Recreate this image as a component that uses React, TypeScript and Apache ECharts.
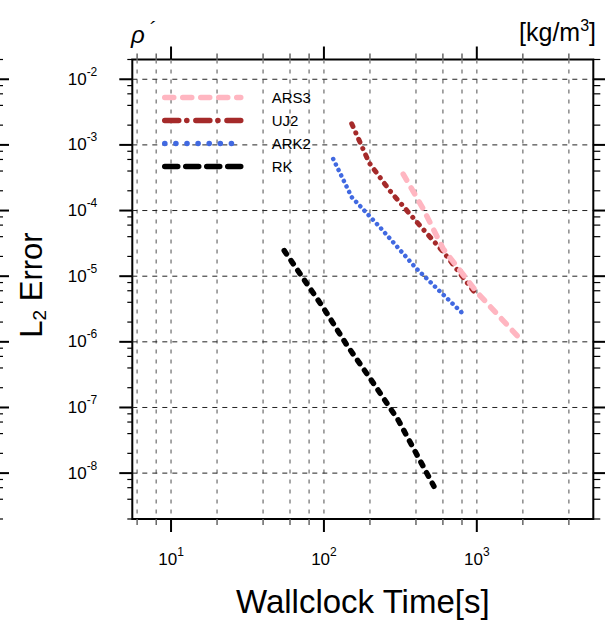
import React, { useEffect, useRef } from 'react';
import * as echarts from 'echarts';

const FONT = '"Liberation Sans", Arial, Helvetica, sans-serif';

// ---- data ----
const seriesNames = ['ARS3', 'UJ2', 'ARK2', 'RK'];
const ars3Time = [330, 447, 603, 995, 1860];
const ars3Error = [3.6e-4, 1.05e-4, 2.6e-5, 5.8e-6, 1.2e-6];
const uj2Time = [152, 198, 270, 424, 603, 960];
const uj2Error = [2.1e-3, 5.3e-4, 2.0e-4, 5.9e-5, 2.35e-5, 5.8e-6];
const ark2Time = [115, 152, 232, 403, 836];
const ark2Error = [6.1e-4, 1.6e-4, 5.6e-5, 1.3e-5, 2.5e-6];
const rkTime = [55, 100, 140, 200, 306, 524];
const rkError = [2.45e-5, 3.2e-6, 9.2e-7, 2.8e-7, 6.45e-8, 6.3e-9];

// ---- axes ----
const xMin = 5.58;
const xMax = 5780;
const yMin = 2e-9;
const yMax = 2e-2;
const xMajorTicks = [10, 100, 1000];
const xMinorTicks = [6, 8, 20, 40, 60, 80, 200, 400, 600, 800, 2000, 4000];
const yMajorTicks = [1e-8, 1e-7, 1e-6, 1e-5, 1e-4, 1e-3, 1e-2];
const yMinorTicks = [
  2e-9, 4e-9, 6e-9, 8e-9,
  2e-8, 4e-8, 6e-8, 8e-8,
  2e-7, 4e-7, 6e-7, 8e-7,
  2e-6, 4e-6, 6e-6, 8e-6,
  2e-5, 4e-5, 6e-5, 8e-5,
  2e-4, 4e-4, 6e-4, 8e-4,
  2e-3, 4e-3, 6e-3, 8e-3,
  2e-2,
];

const COLORS: Record<string, string> = { ARS3: '#FFB6C1', UJ2: '#A52A2A', ARK2: '#4169E1', RK: '#000000' };
const LEGEND_DASH: Record<string, number[]> = { ARS3: [9, 9], UJ2: [14, 8, 0.1, 9], ARK2: [0.1, 11], RK: [13, 8] };

const pair = (xs: number[], ys: number[]) => xs.map((x, i) => [x, ys[i]]);

const powLabel = (v: number) => {
  const l = Math.log10(v);
  const n = Math.round(l);
  if (Math.abs(l - n) > 1e-6) return '';
  return `{b|10}{s|${n}}`;
};

const labelRich = {
  b: { fontSize: 17, fontFamily: FONT, color: '#000', lineHeight: 27 },
  s: { fontSize: 12, fontFamily: FONT, color: '#000', lineHeight: 12, verticalAlign: 'top' },
};

const renderXTick = (params: any, api: any) => {
  const cs = params.coordSys;
  const x = api.coord([api.value(0), yMin])[0];
  const major = api.value(2) === 1;
  const top = cs.y;
  const bottom = cs.y + cs.height;
  const len = major ? 13 : 6;
  const tickStyle = { stroke: major ? '#000' : '#666', lineWidth: major ? 2 : 1.5 };
  return {
    type: 'group',
    children: [
      { type: 'line', shape: { x1: x, y1: top, x2: x, y2: bottom }, style: { stroke: '#8a8a8a', lineWidth: 1.5, lineDash: [4, 6] } },
      { type: 'line', shape: { x1: x, y1: bottom, x2: x, y2: bottom + len }, style: tickStyle },
      { type: 'line', shape: { x1: x, y1: top, x2: x, y2: top - len }, style: tickStyle },
    ],
  };
};

const renderYTick = (params: any, api: any) => {
  const cs = params.coordSys;
  const y = api.coord([xMin, api.value(1)])[1];
  const major = api.value(2) === 1;
  const left = cs.x;
  const right = cs.x + cs.width;
  const tickStyle = { stroke: '#000', lineWidth: major ? 2 : 1.2 };
  const children: any[] = [
    { type: 'line', shape: { x1: left - (major ? 13 : 5), y1: y, x2: left, y2: y }, style: tickStyle },
    { type: 'line', shape: { x1: right, y1: y, x2: right + (major ? 12 : 7), y2: y }, style: tickStyle },
    { type: 'line', shape: { x1: 0, y1: y, x2: major ? 9 : 3, y2: y }, style: tickStyle },
  ];
  if (major) {
    children.unshift({ type: 'line', shape: { x1: left, y1: y, x2: right, y2: y }, style: { stroke: '#222', lineWidth: 1, lineDash: [5, 5] } });
  }
  return { type: 'group', children };
};

export default function App() {
  const ref = useRef<HTMLDivElement>(null);
  useEffect(() => {
    if (!ref.current) return;
    const chart = echarts.init(ref.current, undefined, { renderer: 'svg' });
    const lineBase = { type: 'line', symbol: 'none', showSymbol: false, z: 3, silent: true };
    chart.setOption({
      animation: false,
      grid: { show: true, left: 132.3, top: 59.5, width: 461, height: 461, borderColor: '#000', borderWidth: 2, backgroundColor: 'transparent' },
      legend: {
        orient: 'vertical', left: 157, top: 85, itemWidth: 76, itemHeight: 14, itemGap: 8,
        selectedMode: false,
        data: seriesNames.map((name) => ({
          name,
          lineStyle: { color: COLORS[name], width: 5.5, type: LEGEND_DASH[name], cap: 'round' },
        })),
        textStyle: { fontSize: 15, fontFamily: FONT, color: '#000', padding: [0, 0, 0, 26] },
        itemStyle: { opacity: 0 },
        lineStyle: { width: 'inherit' },
      },
      xAxis: {
        type: 'log', logBase: 10, min: xMin, max: xMax,
        axisLine: { show: false }, axisTick: { show: false }, splitLine: { show: false },
        axisLabel: { margin: 27, formatter: powLabel, rich: labelRich },
        name: 'Wallclock Time[s]', nameLocation: 'middle', nameGap: 66,
        nameTextStyle: { fontSize: 33, fontFamily: FONT, color: '#000' },
      },
      yAxis: {
        type: 'log', logBase: 10, min: yMin, max: yMax,
        axisLine: { show: false }, axisTick: { show: false }, splitLine: { show: false },
        axisLabel: { margin: 35, formatter: powLabel, rich: labelRich },
      },
      graphic: [
        {
          type: 'text', x: 131, y: 34,
          style: {
            text: '{r|ρ}{p|´}', verticalAlign: 'middle', fill: '#000',
            rich: {
              r: { fontSize: 24, fontStyle: 'italic', fontFamily: FONT, fill: '#000', lineHeight: 30 },
              p: { fontSize: 20, fontStyle: 'italic', fontFamily: FONT, fill: '#000', lineHeight: 20, verticalAlign: 'top', padding: [0, 0, 0, 4] },
            },
          },
        },
        {
          type: 'text', x: 596, y: 32,
          style: {
            text: '{a|[kg/m}{s|3}{a|]}', align: 'right', verticalAlign: 'middle', fill: '#000',
            rich: {
              a: { fontSize: 25, fontFamily: FONT, fill: '#000', lineHeight: 30 },
              s: { fontSize: 16, fontFamily: FONT, fill: '#000', lineHeight: 16, verticalAlign: 'top' },
            },
          },
        },
        {
          type: 'text', x: 31.5, y: 285, rotation: Math.PI / 2,
          style: {
            text: '{a|L}{b|2}{a| Error}', align: 'center', verticalAlign: 'middle', fill: '#000',
            rich: {
              a: { fontSize: 31, fontFamily: FONT, fill: '#000', lineHeight: 34 },
              b: { fontSize: 19, fontFamily: FONT, fill: '#000', lineHeight: 19, verticalAlign: 'bottom' },
            },
          },
        },
      ],
      series: [
        {
          type: 'custom', name: 'xticks', coordinateSystem: 'cartesian2d', clip: false, silent: true, z: 1,
          renderItem: renderXTick,
          data: [...xMajorTicks.map((v) => [v, yMin, 1]), ...xMinorTicks.map((v) => [v, yMin, 0])],
        },
        {
          type: 'custom', name: 'yticks', coordinateSystem: 'cartesian2d', clip: false, silent: true, z: 1,
          renderItem: renderYTick,
          data: [...yMajorTicks.map((v) => [xMin, v, 1]), ...yMinorTicks.map((v) => [xMin, v, 0])],
        },
        { ...lineBase, name: 'RK', data: pair(rkTime, rkError), itemStyle: { color: COLORS.RK }, lineStyle: { color: COLORS.RK, width: 5.5, type: [4, 8], cap: 'round' } },
        { ...lineBase, name: 'ARK2', data: pair(ark2Time, ark2Error), itemStyle: { color: COLORS.ARK2 }, lineStyle: { color: COLORS.ARK2, width: 4.5, type: [0.1, 6], cap: 'round' } },
        { ...lineBase, name: 'UJ2', data: pair(uj2Time, uj2Error), itemStyle: { color: COLORS.UJ2 }, lineStyle: { color: COLORS.UJ2, width: 5, type: [3, 7, 0.1, 7], cap: 'round' } },
        { ...lineBase, name: 'ARS3', data: pair(ars3Time, ars3Error), itemStyle: { color: COLORS.ARS3 }, lineStyle: { color: COLORS.ARS3, width: 5.5, type: [7, 9], cap: 'round' } },
      ],
    });
    return () => chart.dispose();
  }, []);
  return <div ref={ref} style={{ position: 'absolute', left: 0, top: 0, width: 605, height: 623 }} />;
}
